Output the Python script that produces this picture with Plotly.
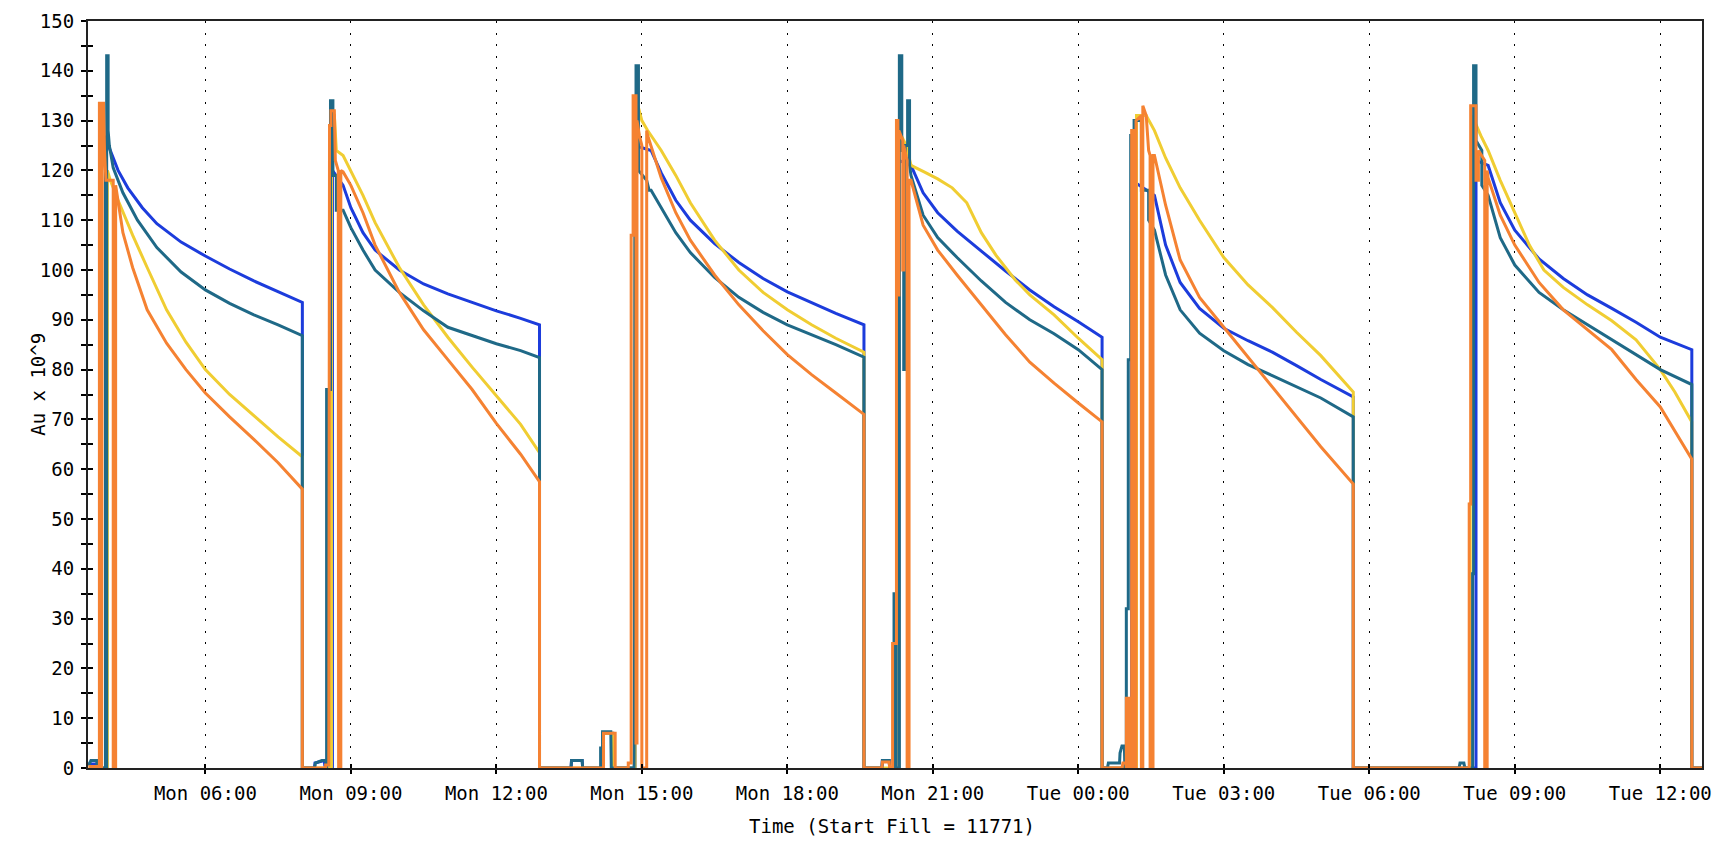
import pandas as pd
import plotly.graph_objects as go

# ---------------- data (hours since Monday 00:00, value in Au x 10^9) ----------------
BLUE = [
    (3.59, 0.8), (3.77, 0.8), (3.78, 0), (3.96, 0), (3.96, 126),
    (4.0, 125), (4.2, 120), (4.4, 116.5), (4.7, 112.5), (5.0, 109.3), (5.5, 105.6), (6.0, 102.8),
    (6.5, 100.2), (7.0, 97.8), (7.5, 95.6), (8.0, 93.5), (8.0, 0),
    (8.25, 0), (8.26, 1), (8.45, 1.5), (8.47, 0), (8.62, 0), (8.62, 120),
    (8.84, 117), (9.0, 112.5), (9.25, 107.5), (9.5, 104), (10.0, 100), (10.5, 97.2), (11.0, 95.2),
    (11.5, 93.5), (12.0, 91.8), (12.5, 90.3), (12.89, 89), (12.89, 0),
    (13.54, 0), (13.55, 1.5), (13.77, 1.5), (13.78, 0), (14.2, 0), (14.2, 7), (14.4, 7), (14.41, 0),
    (14.86, 0), (14.86, 125),
    (15.19, 124), (15.4, 119.5), (15.7, 114), (16.0, 110), (16.5, 105.3), (17.0, 101.5), (17.5, 98.3),
    (18.0, 95.6), (18.5, 93.4), (19.0, 91.3), (19.58, 89), (19.58, 0),
    (19.95, 0), (19.96, 1.5), (20.1, 1.5), (20.11, 0), (20.3, 0), (20.3, 122),
    (20.55, 121), (20.8, 115.5), (21.1, 111.5), (21.5, 107.8), (22.0, 103.8), (22.5, 99.8), (23.0, 96),
    (23.5, 92.6), (24.0, 89.6), (24.49, 86.5), (24.49, 0),
    (25.1, 0), (25.1, 118),
    (25.57, 115), (25.8, 105), (26.1, 97.5), (26.5, 92.3), (27.0, 88.3), (27.5, 85.8), (28.0, 83.5),
    (28.5, 80.8), (29.0, 78), (29.67, 74.5), (29.67, 0),
    (32.2, 0), (32.2, 122),
    (32.45, 121), (32.7, 113.5), (33.0, 108), (33.5, 102.2), (34.0, 98.3), (34.5, 95), (35.0, 92.3),
    (35.5, 89.5), (36.0, 86.5), (36.65, 84), (36.65, 0), (36.86, 0),
]

YELLOW = [
    (3.59, 0), (3.98, 0), (3.98, 120),
    (4.04, 118), (4.2, 114), (4.5, 107), (4.8, 100.5), (5.2, 92), (5.6, 85.5), (6.0, 80), (6.5, 75),
    (7.0, 70.8), (7.5, 66.5), (8.0, 62.5), (8.0, 0),
    (8.6, 0), (8.6, 131), (8.66, 131), (8.7, 124),
    (8.84, 123), (9.0, 120), (9.25, 115), (9.5, 109.5), (10.0, 100.5), (10.5, 93), (11.0, 86.5),
    (11.5, 80.5), (12.0, 74.8), (12.5, 69), (12.89, 63.3), (12.89, 0),
    (14.2, 0), (14.2, 7), (14.4, 7), (14.41, 0),
    (14.86, 0), (14.86, 133), (14.92, 133), (15.0, 130),
    (15.12, 128), (15.4, 124), (15.7, 119), (16.0, 113.5), (16.5, 106), (17.0, 100), (17.5, 95.5),
    (18.0, 92), (18.5, 89), (19.0, 86.3), (19.58, 83.5), (19.58, 0),
    (20.3, 0), (20.3, 128), (20.45, 125),
    (20.55, 121), (20.8, 119.8), (21.1, 118.3), (21.4, 116.5), (21.7, 113.5), (22.0, 107.5),
    (22.3, 103), (22.7, 98), (23.0, 95), (23.5, 91), (24.0, 86.3), (24.49, 82), (24.49, 0),
    (25.2, 0), (25.2, 131), (25.4, 131),
    (25.57, 128), (25.8, 122.5), (26.1, 116.5), (26.5, 110), (27.0, 102.5), (27.5, 97), (28.0, 92.5),
    (28.5, 87.5), (29.0, 82.8), (29.67, 75.5), (29.67, 0),
    (32.08, 0), (32.08, 53), (32.12, 53), (32.12, 131), (32.3, 127),
    (32.45, 124), (32.7, 118), (33.0, 111.5), (33.3, 105), (33.6, 100), (34.0, 96.5), (34.5, 93),
    (35.0, 89.8), (35.5, 86), (36.0, 80), (36.3, 75.5), (36.65, 69.5), (36.65, 0), (36.86, 0),
]

TEAL = [
    (3.59, 0.5), (3.64, 1.5), (3.76, 1.5), (3.77, 0), (3.94, 0), (3.94, 127), (3.955, 127), (3.955, 0),
    (3.965, 0), (3.965, 143), (3.995, 143), (3.995, 128),
    (4.02, 125), (4.1, 120.5), (4.3, 115.5), (4.6, 110), (5.0, 104.5), (5.5, 99.6), (6.0, 96),
    (6.5, 93.3), (7.0, 91), (7.5, 89), (8.0, 86.8), (8.0, 0),
    (8.25, 0), (8.27, 1), (8.4, 1.5), (8.48, 1.5), (8.5, 0), (8.5, 76), (8.58, 76), (8.58, 134),
    (8.63, 134), (8.63, 119), (8.7, 119), (8.7, 112),
    (8.84, 112), (9.0, 108.5), (9.25, 104), (9.5, 100), (10.0, 95.5), (10.5, 91.8), (11.0, 88.5),
    (11.3, 87.5), (11.5, 86.8), (12.0, 85.2), (12.5, 83.8), (12.89, 82.4), (12.89, 0),
    (13.54, 0), (13.55, 1.5), (13.77, 1.5), (13.78, 0), (14.15, 0), (14.15, 4), (14.19, 4), (14.19, 7.3),
    (14.36, 7.3), (14.37, 0), (14.84, 0), (14.85, 26), (14.86, 107), (14.88, 107), (14.88, 141),
    (14.93, 141), (14.93, 120), (15.1, 118), (15.15, 116),
    (15.19, 116), (15.4, 112.5), (15.7, 107.5), (16.0, 103.5), (16.5, 98.5), (17.0, 94.5), (17.5, 91.5),
    (18.0, 89), (18.5, 87), (19.0, 85), (19.58, 82.5), (19.58, 0),
    (19.95, 0), (19.96, 1.5), (20.1, 1.5), (20.11, 0), (20.2, 0), (20.2, 35), (20.24, 35), (20.24, 0),
    (20.31, 0), (20.31, 143), (20.36, 143), (20.36, 124), (20.4, 124), (20.4, 80), (20.43, 80),
    (20.43, 125), (20.48, 125), (20.48, 134), (20.52, 134), (20.52, 121),
    (20.55, 119), (20.8, 111), (21.1, 106.5), (21.5, 102.5), (22.0, 97.8), (22.5, 93.5), (23.0, 90),
    (23.5, 87.2), (24.0, 84), (24.49, 80), (24.49, 0),
    (24.6, 0), (24.62, 1), (24.85, 1), (24.86, 3), (24.9, 4.4), (24.95, 4.4), (24.96, 0), (24.99, 0),
    (24.99, 32), (25.03, 32), (25.03, 82), (25.08, 82), (25.08, 127), (25.15, 127), (25.15, 130),
    (25.3, 130), (25.3, 116), (25.45, 116), (25.45, 110),
    (25.57, 108), (25.8, 99), (26.1, 92), (26.5, 87.3), (27.0, 83.8), (27.5, 81), (28.0, 78.8),
    (28.5, 76.5), (29.0, 74.3), (29.67, 70.5), (29.67, 0),
    (31.85, 0), (31.87, 1), (31.95, 1), (31.97, 0), (32.13, 0), (32.13, 39), (32.15, 39), (32.15, 141),
    (32.2, 141), (32.2, 126), (32.32, 124), (32.32, 117),
    (32.45, 115), (32.7, 106.5), (33.0, 101), (33.5, 95.5), (34.0, 92), (34.5, 89), (35.0, 86),
    (35.5, 83), (36.0, 80), (36.65, 77), (36.65, 0), (36.86, 0),
]

ORANGE = [
    (3.59, 0.3), (3.81, 0.3), (3.815, 0), (3.815, 133.5), (3.86, 133.5), (3.86, 0), (3.875, 0),
    (3.875, 133.5), (3.9, 133.5), (3.92, 124), (3.95, 118), (4.1, 118), (4.1, 0), (4.15, 0),
    (4.15, 117), (4.3, 107.5), (4.5, 100.5), (4.8, 92), (5.2, 85.3), (5.6, 80), (6.0, 75.3),
    (6.5, 70.5), (7.0, 66), (7.5, 61.3), (8.0, 56), (8.0, 0),
    (8.48, 0), (8.48, 0.6), (8.545, 0.6), (8.545, 43), (8.56, 43), (8.56, 129), (8.59, 129), (8.59, 132),
    (8.66, 132), (8.68, 122), (8.74, 120), (8.748, 0), (8.793, 0), (8.793, 120),
    (8.84, 119.7), (9.0, 117), (9.25, 111.5), (9.5, 105), (10.0, 95.5), (10.5, 88), (11.0, 82),
    (11.5, 76), (12.0, 69.2), (12.5, 63), (12.89, 57.5), (12.89, 0),
    (14.21, 0), (14.21, 7), (14.45, 7), (14.45, 0), (14.72, 0), (14.72, 1), (14.78, 1), (14.78, 107),
    (14.82, 107), (14.82, 135), (14.88, 135), (14.88, 5), (14.9, 5), (14.9, 130), (14.95, 127),
    (15.0, 125), (15.0, 0), (15.1, 0), (15.1, 128),
    (15.12, 127), (15.4, 118.5), (15.7, 111.5), (16.0, 106), (16.5, 99), (17.0, 93), (17.5, 87.8),
    (18.0, 83), (18.5, 79), (19.0, 75.3), (19.58, 71), (19.58, 0),
    (19.95, 0), (19.96, 1.2), (20.1, 1.2), (20.11, 0), (20.17, 0), (20.17, 25), (20.25, 25), (20.25, 130),
    (20.28, 130), (20.28, 95), (20.3, 95), (20.3, 128), (20.38, 126), (20.38, 100), (20.4, 100),
    (20.4, 125), (20.47, 122), (20.47, 0), (20.51, 0), (20.51, 118),
    (20.55, 118), (20.8, 109), (21.1, 104), (21.5, 99), (22.0, 93), (22.5, 87), (23.0, 81.5),
    (23.5, 77.3), (24.0, 73.3), (24.49, 69.5), (24.49, 0),
    (24.9, 0), (24.92, 1), (24.98, 1), (24.99, 0), (24.99, 14), (25.04, 14), (25.04, 0), (25.1, 0),
    (25.1, 128), (25.16, 128), (25.16, 0), (25.19, 0), (25.19, 130), (25.3, 131), (25.3, 0), (25.33, 0),
    (25.33, 133), (25.4, 131), (25.45, 124), (25.48, 123), (25.48, 0), (25.54, 0), (25.54, 123),
    (25.57, 123), (25.8, 113), (26.1, 102), (26.5, 94.5), (27.0, 88.5), (27.5, 82.5), (28.0, 76.5),
    (28.5, 70.5), (29.0, 64.5), (29.67, 57), (29.67, 0),
    (32.06, 0), (32.06, 53), (32.09, 53), (32.09, 133), (32.2, 133), (32.2, 118), (32.25, 118),
    (32.25, 124), (32.38, 122), (32.38, 0), (32.43, 0), (32.43, 120),
    (32.45, 118.5), (32.7, 111), (33.0, 105), (33.5, 97.5), (34.0, 92), (34.5, 88), (35.0, 84),
    (35.5, 78), (36.0, 72.5), (36.65, 62), (36.65, 0), (36.86, 0),
]

X_RANGE_HOURS = [3.58, 36.86]
TICK_HOURS = [6, 9, 12, 15, 18, 21, 24, 27, 30, 33, 36]
TICK_LABELS = ["Mon 06:00", "Mon 09:00", "Mon 12:00", "Mon 15:00", "Mon 18:00", "Mon 21:00",
               "Tue 00:00", "Tue 03:00", "Tue 06:00", "Tue 09:00", "Tue 12:00"]
Y_TICKS = list(range(0, 151, 10))

BASE = pd.Timestamp("2024-01-01")  # a Monday


def to_time(h):
    return BASE + pd.to_timedelta(h, unit="h")


SERIES = [
    ("blue", BLUE, "#1c3cdc"),
    ("yellow", YELLOW, "#f0cd32"),
    ("teal", TEAL, "#1f6987"),
    ("orange", ORANGE, "#f58232"),
]

FONT = "DejaVu Sans Mono"
FS = 19

fig = go.Figure()
for name, data, color in SERIES:
    fig.add_trace(go.Scatter(
        x=[to_time(h) for h, _ in data],
        y=[v for _, v in data],
        mode="lines", name=name, showlegend=False,
        line=dict(color=color, width=3),
        hoverinfo="skip",
    ))

# helper trace for the overlay axes (inward half of the tick marks)
fig.add_trace(go.Scatter(x=[to_time(X_RANGE_HOURS[0])], y=[0], xaxis="x2", yaxis="y2",
                         mode="markers", marker=dict(opacity=0), showlegend=False, hoverinfo="skip"))

xr = [to_time(X_RANGE_HOURS[0]), to_time(X_RANGE_HOURS[1])]
tickvals = [to_time(h) for h in TICK_HOURS]

fig.update_layout(
    width=1722, height=841,
    margin=dict(l=88, r=10, t=19, b=73),
    paper_bgcolor="white", plot_bgcolor="white",
    font=dict(family=FONT, size=FS, color="black"),
    xaxis=dict(
        type="date", range=xr, tickvals=tickvals, ticktext=TICK_LABELS,
        ticks="outside", ticklen=4, tickwidth=1.5, tickcolor="black",
        ticklabelstandoff=3,
        showline=True, linecolor="#222", linewidth=2, mirror=True,
        showgrid=True, gridcolor="black", gridwidth=1.2, griddash="2px,9.5px",
        zeroline=False, tickfont=dict(family=FONT, size=FS),
    ),
    yaxis=dict(
        range=[0, 150], tickvals=Y_TICKS,
        ticks="outside", ticklen=5, tickwidth=1.5, tickcolor="black",
        minor=dict(ticks="outside", ticklen=5, tickwidth=1.5, tickcolor="black", dtick=5, tick0=0,
                   showgrid=False),
        showline=True, linecolor="#222", linewidth=2, mirror=True,
        showgrid=False, zeroline=False, tickfont=dict(family=FONT, size=FS),
        ticklabelstandoff=3,
    ),
    xaxis2=dict(
        type="date", overlaying="x", range=xr, tickvals=tickvals, showticklabels=False,
        ticks="inside", ticklen=4, tickwidth=1.5, tickcolor="black",
        showgrid=False, showline=False, zeroline=False,
    ),
    yaxis2=dict(
        overlaying="y", range=[0, 150], dtick=5, tick0=0, showticklabels=False,
        ticks="inside", ticklen=5, tickwidth=1.5, tickcolor="black",
        showgrid=False, showline=False, zeroline=False,
    ),
    annotations=[
        dict(text="Au x 10^9", xref="paper", yref="paper", x=0, y=0.513, xshift=-50,
             textangle=-90, showarrow=False, xanchor="center", yanchor="middle",
             font=dict(family=FONT, size=FS)),
        dict(text="Time (Start Fill = 11771)", xref="paper", yref="paper", x=0.498, y=0,
             yshift=-58, showarrow=False, xanchor="center", yanchor="middle",
             font=dict(family=FONT, size=FS)),
    ],
)

fig.write_html("out.html", config={"displayModeBar": False},
               post_script="document.body.style.margin='0';document.body.style.overflow='hidden';")
